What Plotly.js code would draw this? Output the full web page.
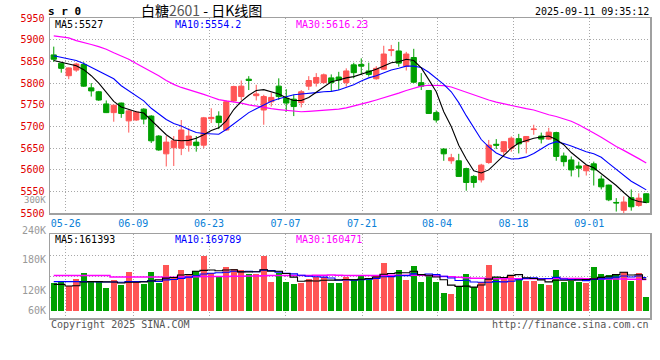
<!DOCTYPE html>
<html><head><meta charset="utf-8">
<script src="https://cdn.plot.ly/plotly-3.0.1.min.js"></script>
<style>html,body{margin:0;padding:0;background:#fff}#c{width:660px;height:360px}</style>
</head><body><div id="c"></div>
<script>
// ---------- data ----------
const TICK_DATES = ['05-26','06-09','06-23','07-07','07-21','08-04','08-18','09-01'];
const PRICE_TICKS = [5500,5550,5600,5650,5700,5750,5800,5850,5900,5950];
const VOL_LABELS = ['300K','240K','180K','120K','60K'];

const OPEN = [5865,5846,5817,5830,5843,5789,5780,5752,5732,5754, 5713,5715,5740,5724,5678,5637,5651,5650,5657,5664,
  5657,5718,5724,5692,5759,5769,5809,5771,5738,5757, 5793,5765,5763,5755,5793,5800,5801,5812,5814,5801,
  5842,5843,5828,5810,5832,5875,5874,5839,5859,5801, 5783,5732,5648,5621,5621,5603,5585,5577,5617,5659,
  5642,5650,5672,5665,5693,5678,5671,5686,5632,5623, 5609,5598,5614,5579,5565,5525,5507,5536,5518,5545];
const HIGH = [5884,5848,5836,5847,5848,5800,5782,5760,5750,5755, 5738,5736,5742,5726,5680,5678,5678,5715,5696,5678,
  5722,5742,5735,5760,5794,5806,5816,5796,5773,5778, 5811,5786,5773,5784,5816,5823,5822,5820,5826,5834,
  5847,5857,5847,5839,5886,5888,5895,5872,5879,5823, 5784,5737,5650,5637,5637,5605,5588,5614,5669,5671,
  5666,5677,5683,5678,5704,5686,5697,5688,5640,5631, 5619,5611,5619,5587,5566,5535,5539,5555,5546,5546];
const LOW = [5849,5824,5809,5826,5791,5769,5759,5731,5711,5720, 5686,5713,5705,5662,5644,5608,5609,5634,5642,5642,
  5650,5708,5694,5690,5756,5761,5784,5760,5704,5746, 5761,5734,5724,5744,5784,5792,5799,5780,5784,5792,
  5811,5819,5815,5808,5830,5862,5838,5829,5800,5784, 5729,5709,5621,5614,5584,5552,5559,5571,5614,5648,
  5631,5642,5638,5638,5681,5661,5669,5621,5608,5585, 5583,5587,5564,5555,5528,5504,5500,5506,5515,5523];
const CLOSE = [5855,5834,5835,5844,5793,5782,5761,5732,5749,5730, 5736,5733,5717,5667,5646,5664,5667,5692,5678,5656,
  5720,5721,5709,5757,5792,5793,5806,5775,5769,5767, 5769,5754,5746,5780,5806,5813,5819,5801,5807,5828,
  5824,5839,5820,5834,5867,5877,5846,5867,5802,5793, 5730,5715,5637,5628,5585,5571,5571,5611,5657,5657,
  5665,5673,5660,5677,5694,5671,5687,5631,5619,5600, 5604,5610,5600,5561,5531,5524,5526,5515,5535,5525];

const MA5 = [5852,5848,5844,5840,5831,5817,5800,5779,5758,5745, 5739,5734,5731,5714,5697,5681,5669,5667,5668,5673,
  5681,5691,5697,5713,5739,5758,5772,5783,5785,5780, 5775,5766,5760,5760,5767,5779,5792,5803,5807,5812,
  5815,5820,5826,5832,5840,5847,5849,5855,5852,5835, 5808,5780,5734,5700,5657,5625,5598,5593,5600,5617,
  5632,5650,5662,5668,5673,5676,5678,5670,5658,5640, 5627,5612,5605,5592,5579,5564,5548,5533,5527,5525];
const MA10 = [5863,5859,5856,5852,5845,5836,5827,5819,5810,5794, 5783,5771,5759,5742,5728,5716,5707,5701,5693,5686,
  5684,5683,5682,5693,5706,5719,5732,5741,5750,5758, 5764,5769,5773,5775,5776,5778,5780,5781,5784,5790,
  5796,5805,5812,5817,5824,5830,5834,5839,5839,5836, 5825,5812,5797,5780,5755,5725,5698,5670,5653,5639,
  5631,5625,5626,5630,5638,5648,5659,5665,5661,5655, 5648,5642,5637,5629,5615,5602,5587,5574,5564,5554];
const MA30 = [5909,5907,5904,5898,5894,5889,5884,5878,5870,5863, 5855,5845,5836,5827,5817,5806,5797,5790,5785,5780,
  5774,5768,5762,5759,5757,5754,5750,5747,5743,5741, 5739,5737,5735,5734,5735,5736,5737,5738,5740,5743,
  5747,5752,5756,5761,5766,5772,5777,5783,5788,5793, 5795,5795,5794,5791,5785,5778,5772,5767,5761,5756,
  5752,5748,5744,5741,5738,5732,5727,5723,5718,5712, 5704,5695,5685,5675,5664,5654,5645,5636,5626,5616];

// volume in thousands of lots
const VOL = [140,149,126,162,193,149,149,116,157,132, 198,149,137,198,143,234,174,208,188,203,
  280,191,173,224,214,208,188,188,280,147, 191,147,137,143,164,171,171,143,143,174,
  162,183,162,183,246,183,208,157,229,147, 183,147,91,85,120,188,120,149,234,173,
  173,178,169,152,152,137,132,208,149,152, 149,142,225,188,183,188,200,154,195,72];
const VOL_MA5 = [135,135,127,128,147,149,149,148,147,142, 146,146,148,152,158,167,170,183,186,202,
  207,209,205,209,210,199,199,200,210,203, 202,191,172,151,153,152,156,157,158,160,
  159,161,165,173,187,191,195,195,202,185, 182,173,159,131,125,126,121,132,162,173,
  170,181,185,169,165,158,148,156,156,156, 158,160,163,171,177,185,197,183,184,162];
const VOL_MA10 = [149,149,149,149,149,149,148,147,147,146, 149,149,150,153,150,158,160,166,172,179,
  188,192,195,197,202,200,202,200,208,206, 198,192,189,182,177,174,172,168,156,158,
  156,159,162,166,174,175,179,180,189,186, 188,185,177,168,155,156,147,146,146,149,
  148,151,159,166,169,164,165,171,162,160, 158,154,160,163,167,172,178,173,178,170];
const VOL_MA30 = [180,180,180,180,180,180,180,180,173,173, 173,173,173,173,173,172,172,173,173,174,
  175,175,176,176,177,177,178,178,179,180, 180,180,181,181,181,182,182,183,182,181,
  181,181,181,181,182,182,182,182,182,182, 181,178,176,174,172,169,167,166,165,164,
  164,164,164,164,164,164,164,165,165,165, 165,164,164,163,163,162,162,161,161,160];

const PRICE_MA_TEXT = ['MA5:5527','MA10:5554.2','MA30:5616.23'];
const VOL_MA_TEXT = ['MA5:161393','MA10:169789','MA30:160471'];
const TITLE_NAME = '白糖', TITLE_CODE = '2601', TITLE_REST = ' - 日K线图';
const STAMP = '2025-09-11 09:35:12';

// ---------- layout constants ----------
const W = 660, H = 360, ML = 50, MR = 10, MT = 18, MB = 42;
const PW = W - ML - MR, PH = H - MT - MB;
const px = v => (H - MB - v) / PH;     // pixel row -> paper y
const pxx = v => (v - ML) / PW;        // pixel col -> paper x
const GRID_X = [1.6, 10.6, 20.7, 30.9, 41.1, 51.1, 61.3, 71.4];
const VOL_LABEL_ROWS = [200.3, 230.7, 259.3, 290.8, 310.7];
const RED = '#ff5555', GREEN = '#00a000';
const MONO = 'DejaVu Sans Mono';
const GRIDC = '#a8a8a8', LINEC = '#a0a0a0';
const VRANGE = [-37.4, 391.8];

const idx = OPEN.map((_, i) => i);
const volColors = OPEN.map((o, i) => CLOSE[i] >= o ? RED : GREEN);

const traces = [
  {type:'candlestick', x: idx, open: OPEN, high: HIGH, low: LOW, close: CLOSE, xaxis:'x', yaxis:'y',
   increasing:{line:{color:RED, width:1}, fillcolor:RED},
   decreasing:{line:{color:GREEN, width:1}, fillcolor:GREEN}, whiskerwidth:0, hoverinfo:'skip'},
  {type:'scatter', mode:'lines', x: idx, y: MA30, line:{color:'#ff00ff', width:1.2}, xaxis:'x', yaxis:'y'},
  {type:'scatter', mode:'lines', x: idx, y: MA10, line:{color:'#0000ff', width:1.1}, xaxis:'x', yaxis:'y'},
  {type:'scatter', mode:'lines', x: idx, y: MA5, line:{color:'#000000', width:1.1}, xaxis:'x', yaxis:'y'},
  {type:'bar', x: idx, y: VOL, width: 0.8, marker:{color: volColors, line:{width:0}}, xaxis:'x2', yaxis:'y2'},
  {type:'scatter', mode:'lines', x: idx, y: VOL_MA30, line:{color:'#ff00ff', width:1.5, shape:'hvh'}, xaxis:'x2', yaxis:'y2'},
  {type:'scatter', mode:'lines', x: idx, y: VOL_MA10, line:{color:'#0000ff', width:1.1, shape:'hvh'}, xaxis:'x2', yaxis:'y2'},
  {type:'scatter', mode:'lines', x: idx, y: VOL_MA5, line:{color:'#000000', width:1.1, shape:'hvh'}, xaxis:'x2', yaxis:'y2'}
];

const priceBottom = px(213.3), volTop = px(234.3);
const vq = [1,2,3].map(k => VRANGE[0] + k * (VRANGE[1] - VRANGE[0]) / 4);

const axBase = {showline:true, mirror:true, linecolor:LINEC, linewidth:1.5, zeroline:false,
  showgrid:true, gridcolor:GRIDC, gridwidth:1, griddash:'1px,2px', ticks:'', fixedrange:true};

const ann = [];
const A = (text, x, y, xanchor, color, size, extra) => ann.push(Object.assign({
  text, x, y, xref:'paper', yref:'paper', xanchor, yanchor:'middle', showarrow:false,
  font:{family:MONO, size, color}, borderpad:0}, extra || {}));

A(TITLE_NAME + '<span style="color:#555">' + TITLE_CODE + '</span>' + TITLE_REST, pxx(140), px(10), 'left', '#000', 14,
  {font:{family:'Noto Sans CJK SC', size:14, color:'#000'}});
A('<b>s r 0</b>', pxx(47), px(11.5), 'left', '#000', 11);
A(STAMP, pxx(649.5), px(12), 'right', '#000', 10);
const maCols = ['#000000', '#0000ff', '#ff00ff'], maX = [54, 174, 295];
PRICE_MA_TEXT.forEach((t, i) => A(t, pxx(maX[i]), px(24), 'left', maCols[i], 10));
VOL_MA_TEXT.forEach((t, i) => A(t, pxx(maX[i]), px(239), 'left', maCols[i], 10));
VOL_LABELS.forEach((t, i) => A(t, pxx(47), px(VOL_LABEL_ROWS[i]), 'right', '#999999', i === 0 ? 9 : 10));
A('Copyright 2025 SINA.COM', pxx(50), px(324), 'left', '#555555', 10);
A('http://finance.sina.com.cn', pxx(649.5), px(324), 'right', '#555555', 10);

const layout = {
  width: W, height: H, margin:{l:ML, r:MR, t:MT, b:MB, pad:0},
  paper_bgcolor:'#ffffff', plot_bgcolor:'#ffffff', showlegend:false,
  boxgap:0.3, boxgroupgap:0, bargap:0,
  xaxis: Object.assign({}, axBase, {domain:[0,1], anchor:'y', range:[-0.5, 79.5],
    tickmode:'array', tickvals:GRID_X, ticktext:TICK_DATES, showticklabels:true,
    tickfont:{family:MONO, size:10, color:'#0a7fd8'}, rangeslider:{visible:false}}),
  yaxis: Object.assign({}, axBase, {domain:[priceBottom, 1], anchor:'x', range:[5500, 5950],
    tickmode:'array', tickvals:PRICE_TICKS, ticktext:PRICE_TICKS.map(String),
    tickfont:{family:MONO, size:10, color:'#e00000'}, ticklabelshift:2.5, ticklabelstandoff:2}),
  xaxis2: Object.assign({}, axBase, {domain:[0,1], anchor:'y2', range:[-0.5, 79.5],
    tickmode:'array', tickvals:GRID_X, showticklabels:false}),
  yaxis2: Object.assign({}, axBase, {domain:[0, volTop], anchor:'x2', range:VRANGE,
    tickmode:'array', tickvals:vq, showticklabels:false}),
  annotations: ann
};

Plotly.newPlot('c', traces, layout, {staticPlot:true, displayModeBar:false});
</script></body></html>
